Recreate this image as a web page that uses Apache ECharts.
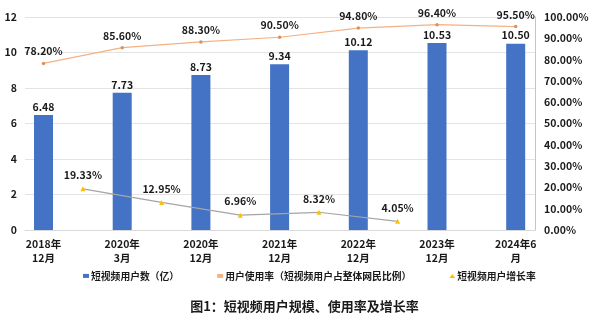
<!DOCTYPE html>
<html>
<head>
<meta charset="utf-8">
<script src="https://cdn.jsdelivr.net/npm/echarts@6/dist/echarts.min.js"></script>
<style>
html,body{margin:0;padding:0;background:#fff;}
#c{width:609px;height:322px;}
</style>
</head>
<body>
<div id="c"></div>
<script>
var categories = ['2018年\n12月','2020年\n3月','2020年\n12月','2021年\n12月','2022年\n12月','2023年\n12月','2024年6\n月'];
var users = [6.48, 7.73, 8.73, 9.34, 10.12, 10.53, 10.50];
var usageRate = [78.20, 85.60, 88.30, 90.50, 94.80, 96.40, 95.50];
var growthPeriods = ['2018-2020.3','2020.3-2020.12','2020.12-2021.12','2021.12-2022.12','2022.12-2023.12','2023.12-2024.6'];
var growthRate = [19.33, 12.95, 6.96, 8.32, 4.05];
var leftTicks = [0, 2, 4, 6, 8, 10, 12];

var FONT = '"Noto Sans CJK SC", "Noto Sans", sans-serif';
var chart = echarts.init(document.getElementById('c'));
var labelStyle = {fontFamily: FONT, fontWeight: 'bold', fontSize: 10.5, color: '#1a1a1a'};

chart.setOption({
  animation: false,
  textStyle: {fontFamily: FONT},
  title: {
    text: '图1：短视频用户规模、使用率及增长率',
    left: 'center', top: 295,
    textStyle: {fontFamily: FONT, fontWeight: 'bold', fontSize: 13, color: '#1a1a1a'}
  },
  legend: {
    left: 78, top: 266,
    itemGap: 38, itemWidth: 6, itemHeight: 4,
    textStyle: {fontFamily: FONT, fontWeight: 'bold', fontSize: 9.8, color: '#1a1a1a', padding: [0,0,0,-3]},
    data: [
      {name: '短视频用户数（亿）', icon: 'rect'},
      {name: '用户使用率（短视频用户占整体网民比例）', icon: 'rect', itemStyle: {color: '#F4B183'}},
      {name: '短视频用户增长率', icon: 'triangle', itemStyle: {color: '#FFC000'}}
    ]
  },
  grid: [
    {left: 25, right: 74, top: 17, bottom: 92},
    {left: 43.5, right: 93.3, top: 17, bottom: 92}
  ],
  xAxis: [
    {gridIndex: 1, type: 'category', data: categories, boundaryGap: false,
     axisLine: {show: false}, axisTick: {show: false},
     axisLabel: Object.assign({margin: 7, lineHeight: 14, interval: 0}, labelStyle)},
    {gridIndex: 1, type: 'category', data: growthPeriods, boundaryGap: true, show: false},
    {gridIndex: 0, type: 'value', min: 0, max: 1,
     axisLine: {show: true, lineStyle: {color: '#D9D9D9', width: 1}},
     axisTick: {show: false}, axisLabel: {show: false}, splitLine: {show: false}}
  ],
  yAxis: [
    {gridIndex: 0, type: 'value', position: 'left', min: leftTicks[0], max: leftTicks[leftTicks.length-1], interval: 2,
     axisLine: {show: false}, axisTick: {show: false},
     axisLabel: Object.assign({margin: 8}, labelStyle),
     splitLine: {lineStyle: {color: '#E3E3E3', width: 1}}},
    {gridIndex: 0, type: 'value', position: 'right', min: 0, max: 100, interval: 10,
     axisLine: {show: true, lineStyle: {color: '#B4C7E7', width: 1}}, axisTick: {show: false},
     axisLabel: Object.assign({margin: 9, formatter: function(v){return v.toFixed(2) + '%';}}, labelStyle),
     splitLine: {show: false}},
    {gridIndex: 1, type: 'value', min: 0, max: 12, show: false},
    {gridIndex: 1, type: 'value', min: 0, max: 100, show: false}
  ],
  series: [
    {name: '短视频用户数（亿）', type: 'bar', xAxisIndex: 0, yAxisIndex: 2,
     data: users, barWidth: 19, clip: false,
     itemStyle: {color: '#4472C4'},
     label: Object.assign({show: true, position: 'top', distance: 3,
       formatter: function(p){return p.value.toFixed(2);}}, labelStyle)},
    {name: '用户使用率（短视频用户占整体网民比例）', type: 'line', xAxisIndex: 0, yAxisIndex: 3,
     data: usageRate, clip: false,
     lineStyle: {color: '#F4B183', width: 1.2},
     symbol: 'circle', symbolSize: 3.5, itemStyle: {color: '#D9925F'},
     label: Object.assign({show: true, position: 'top', distance: 5,
       formatter: function(p){return p.value.toFixed(2) + '%';}}, labelStyle)},
    {name: '短视频用户增长率', type: 'line', xAxisIndex: 1, yAxisIndex: 3,
     data: growthRate, clip: false,
     lineStyle: {color: '#A5A5A5', width: 1.2},
     symbol: 'triangle', symbolSize: 5, itemStyle: {color: '#FFC000'},
     label: Object.assign({show: true, position: 'top', distance: 6,
       formatter: function(p){return p.value.toFixed(2) + '%';}}, labelStyle)}
  ]
});
</script>
</body>
</html>
